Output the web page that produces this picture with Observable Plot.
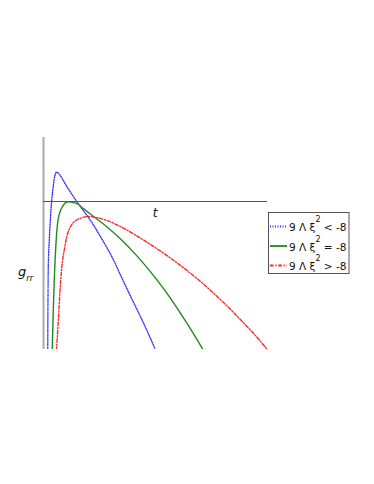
<!DOCTYPE html>
<html><head><meta charset="utf-8">
<script src="https://cdn.jsdelivr.net/npm/d3@7"></script>
<script src="https://cdn.jsdelivr.net/npm/@observablehq/plot@0.6"></script>
<style>html,body{margin:0;padding:0;background:#fff;}</style>
</head><body><div id="chart"></div>
<script>
// Series (t, g_rr in arbitrary units)
const blueT = [0.19,0.20,0.22,0.28,0.36,0.44,0.51,0.58,0.71,1.06,1.50,2.10,2.54,3.07,3.51,3.96,4.41,4.78,5.00];
const blueG = [-6.65,-4.42,-2.63,-1.29,-0.02,0.71,1.16,1.31,1.21,0.64,-0.02,-0.85,-1.56,-2.50,-3.44,-4.38,-5.31,-6.12,-6.63];
const greenT = [0.39,0.45,0.54,0.61,0.67,0.76,0.89,1.00,1.13,1.29,1.50,1.80,2.25,2.77,3.44,4.11,4.78,5.45,6.12,6.79,7.14];
const greenG = [-6.65,-4.42,-2.19,-1.15,-0.71,-0.40,-0.16,-0.04,-0.01,-0.04,-0.10,-0.33,-0.68,-1.08,-1.67,-2.36,-3.14,-4.01,-4.99,-6.05,-6.65];
const redT = [0.58,0.67,0.76,0.85,0.94,1.03,1.16,1.35,1.61,1.95,2.32,2.84,3.44,4.11,4.78,5.45,6.12,6.79,7.46,8.13,8.79,9.46,10.01];
const redG = [-6.65,-5.18,-3.66,-2.63,-2.10,-1.61,-1.21,-0.92,-0.76,-0.67,-0.71,-0.85,-1.12,-1.50,-1.92,-2.37,-2.86,-3.39,-3.97,-4.60,-5.27,-5.98,-6.63];
const seriesLabels = ["9 \u039B \u03BE|2| < -8", "9 \u039B \u03BE|2| = -8", "9 \u039B \u03BE|2| > -8"];
const xLabel = "t";
const yLabel = "g";
const ySub = "rr";

const toRows = (T, G) => T.map((t, i) => ({t, g: G[i]}));
const blue = toRows(blueT, blueG), green = toRows(greenT, greenG), red = toRows(redT, redG);

const styles = [
  {stroke: "#3535ff", dash: "1,1.5", width: 1.4},
  {stroke: "#1f8a1f", dash: null, width: 1.4},
  {stroke: "#ff2626", dash: "3.5,1.8,1.2,1.8", width: 1.4}
];

const plot = Plot.plot({
  width: 374, height: 484,
  marginLeft: 43, marginRight: 107, marginTop: 137, marginBottom: 135,
  x: {domain: [0, 10], axis: null},
  y: {domain: [-6.607, 2.857], axis: null},
  style: {background: "#fff"},
  marks: [
    Plot.ruleX([0], {stroke: "#aaa", strokeWidth: 2}),
    Plot.ruleY([0], {stroke: "#555", strokeWidth: 1}),
    Plot.line(blue, {x: "t", y: "g", stroke: styles[0].stroke, strokeWidth: styles[0].width, strokeDasharray: styles[0].dash, curve: "catmull-rom", clip: true}),
    Plot.line(green, {x: "t", y: "g", stroke: styles[1].stroke, strokeWidth: styles[1].width, curve: "catmull-rom", clip: true}),
    Plot.line(red, {x: "t", y: "g", stroke: styles[2].stroke, strokeWidth: styles[2].width, strokeDasharray: styles[2].dash, curve: "catmull-rom", clip: true})
  ]
});
document.getElementById("chart").appendChild(plot);

const svg = d3.select(plot);
const font = "'DejaVu Sans', sans-serif";
// axis labels
svg.append("text").attr("x", 155).attr("y", 217).attr("text-anchor", "middle").attr("font-family", font)
  .attr("font-style", "italic").attr("font-size", 12).attr("fill", "#111").text(xLabel);
const gl = svg.append("text").attr("x", 18).attr("y", 276).attr("text-anchor", "start").attr("font-family", font)
  .attr("font-style", "italic").attr("font-size", 13).attr("fill", "#111");
gl.append("tspan").text(yLabel);
gl.append("tspan").attr("dy", 5).attr("font-size", 8.5).text(ySub);

// legend
const lg = svg.append("g");
lg.append("rect").attr("x", 268.5).attr("y", 212.5).attr("width", 80.5).attr("height", 61)
  .attr("fill", "#fff").attr("stroke", "#555").attr("stroke-width", 1);
seriesLabels.forEach((lab, i) => {
  const y = 226.5 + i * 19.5;
  const s = styles[i];
  lg.append("line").attr("x1", 270).attr("x2", 287).attr("y1", y).attr("y2", y)
    .attr("stroke", s.stroke).attr("stroke-width", s.width + 0.4)
    .attr("stroke-dasharray", s.dash);
  const parts = lab.split("|");
  const tx = lg.append("text").attr("x", 289).attr("y", y + 4.5).attr("text-anchor", "start")
    .attr("font-family", font).attr("font-size", 10.5).attr("fill", "#111");
  tx.append("tspan").text(parts[0]);
  tx.append("tspan").attr("dy", -9).attr("font-size", 8).text(parts[1]);
  tx.append("tspan").attr("dy", 9).text(parts[2]);
});
</script></body></html>
